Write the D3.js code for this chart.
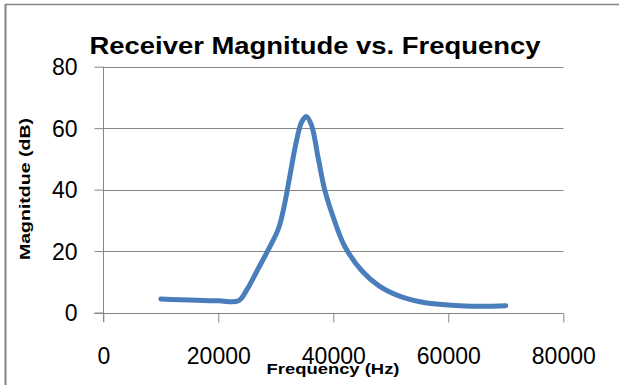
<!DOCTYPE html>
<html><head><meta charset="utf-8">
<script src="https://cdn.jsdelivr.net/npm/d3@7"></script>
<style>html,body{margin:0;padding:0;background:#fff;}svg{display:block;}</style>
</head><body>
<svg id="chart" width="619" height="385"></svg>
<script>
const title = "Receiver Magnitude vs. Frequency";
const xLabel = "Frequency (Hz)";
const yLabel = "Magnitdue (dB)";
const xTicks = [0, 20000, 40000, 60000, 80000];
const yTicks = [0, 20, 40, 60, 80];
const frequency = [10000, 20000, 23500, 25000, 27000, 29000, 30500, 31500, 32500, 33500, 34500, 35300, 36200, 37400, 38500, 40000, 42000, 45000, 48000, 52000, 56000, 62000, 66000, 70000];
const magnitude = [4.4, 3.8, 3.8, 7.5, 14.5, 21.5, 27.5, 35, 45, 55, 62, 63.8, 61, 50, 40, 31, 21.5, 13.5, 8.6, 5, 3.2, 2.2, 2.0, 2.2];

const svg = d3.select("#chart");
const gray = "#868686";
const x = d3.scaleLinear().domain([0, 80000]).range([103.3, 563.3]);
const y = d3.scaleLinear().domain([0, 80]).range([312.5, 66.7]);

// outer frame (left and top edges)
svg.append("line").attr("x1", 5.5).attr("x2", 5.5).attr("y1", 4).attr("y2", 385)
  .attr("stroke", gray).attr("stroke-width", 2);
svg.append("line").attr("x1", 5).attr("x2", 619).attr("y1", 4.5).attr("y2", 4.5)
  .attr("stroke", gray).attr("stroke-width", 1.5);

// gridlines
svg.append("g").selectAll("line").data(yTicks.filter(d => d > 0)).join("line")
  .attr("x1", x(0)).attr("x2", x(80000))
  .attr("y1", d => Math.round(y(d)) + 0.5).attr("y2", d => Math.round(y(d)) + 0.5)
  .attr("stroke", gray).attr("stroke-width", 1);

// y axis
const yAxis = svg.append("g").attr("transform", `translate(${Math.round(x(0)) + 0.5},0)`)
  .call(d3.axisLeft(y).tickValues(yTicks).tickSize(9).tickPadding(17).tickFormat(d3.format("d")));
// x axis
const xAxis = svg.append("g").attr("transform", `translate(0,${Math.round(y(0)) + 0.5})`)
  .call(d3.axisBottom(x).tickValues(xTicks).tickSize(9).tickPadding(0).tickFormat(d3.format("d")));

[yAxis, xAxis].forEach(g => {
  g.select(".domain").attr("stroke", gray).attr("stroke-width", 1);
  g.selectAll(".tick line").attr("stroke", gray);
  g.selectAll(".tick text").attr("fill", "#000")
    .style("font-family", "'Liberation Sans', Arial, sans-serif").style("font-size", "23px");
});
yAxis.select(".domain").attr("d", `M0,${y(80)}V${y(0) + 9}`);
xAxis.select(".domain").attr("d", `M${x(0) - 9},0H${x(80000)}`);
yAxis.selectAll(".tick text").attr("dy", "0.35em");
xAxis.selectAll(".tick text").attr("dy", 0).attr("y", 50);

// data line
const line = d3.line().x((d, i) => x(frequency[i])).y(d => y(d)).curve(d3.curveCatmullRom.alpha(0.5));
svg.append("path").datum(magnitude).attr("d", line)
  .attr("fill", "none").attr("stroke", "#4a7ebb").attr("stroke-width", 5)
  .attr("stroke-linecap", "round").attr("stroke-linejoin", "round");

// title
svg.append("text").attr("x", 315).attr("y", 53.5).attr("text-anchor", "middle")
  .attr("textLength", 451).attr("lengthAdjust", "spacingAndGlyphs")
  .style("font-family", "'Liberation Sans', Arial, sans-serif").style("font-weight", "bold").style("font-size", "24px")
  .text(title);

// axis labels
svg.append("text").attr("x", 333).attr("y", 374).attr("text-anchor", "middle")
  .attr("textLength", 133).attr("lengthAdjust", "spacingAndGlyphs")
  .style("font-family", "'Liberation Sans', Arial, sans-serif").style("font-weight", "bold").style("font-size", "15px")
  .text(xLabel);
svg.append("text").attr("transform", "translate(30,189) rotate(-90)").attr("text-anchor", "middle")
  .attr("textLength", 142).attr("lengthAdjust", "spacingAndGlyphs")
  .style("font-family", "'Liberation Sans', Arial, sans-serif").style("font-weight", "bold").style("font-size", "15px")
  .text(yLabel);
</script>
</body></html>
